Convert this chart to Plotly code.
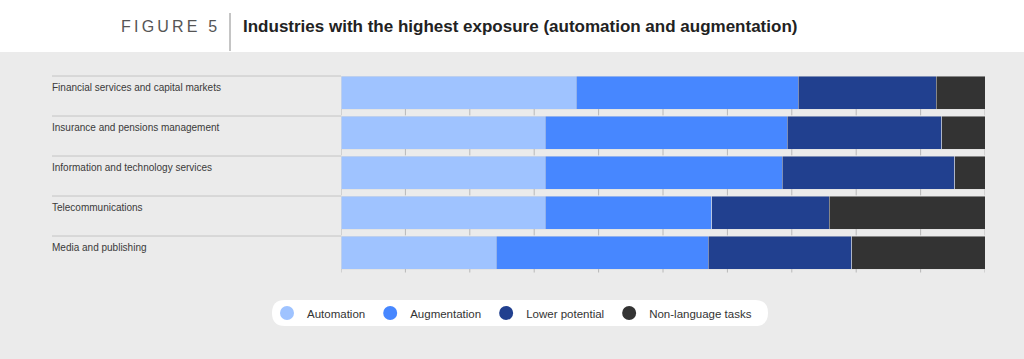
import plotly.graph_objects as go

# ---- data ----
industries = [
    "Financial services and capital markets",
    "Insurance and pensions management",
    "Information and technology services",
    "Telecommunications",
    "Media and publishing",
]
automation = [36.5, 31.7, 31.7, 31.7, 24.1]
augmentation = [34.5, 37.6, 36.8, 25.9, 32.9]
lower_potential = [21.4, 24.0, 26.8, 18.2, 22.3]
non_language = [7.6, 6.7, 4.7, 24.2, 20.7]
series_names = ["Automation", "Augmentation", "Lower potential", "Non-language tasks"]
series_values = [automation, augmentation, lower_potential, non_language]
tick_values = list(range(0, 101, 10))

# ---- style ----
colors = ["#9fc3ff", "#4787ff", "#21408f", "#333333"]
BG = "#ebebeb"
FONT = "Liberation Sans, Arial, sans-serif"
W, H = 1024, 359
BAR_W = 0.825


def px_x(p):
    return p / W


def px_y(p):
    return 1 - p / H


fig = go.Figure()

for name, vals, col in zip(series_names, series_values, colors):
    fig.add_trace(go.Bar(
        y=industries, x=vals, orientation="h", name=name,
        marker=dict(color=col, line=dict(color="#dcdcdc", width=0.5)),
        width=BAR_W, showlegend=False, hoverinfo="x+name",
    ))

# legend-only circle markers
for name, col in zip(series_names, colors):
    fig.add_trace(go.Scatter(
        x=[None], y=[None], mode="markers", name=name,
        marker=dict(symbol="circle", size=14, color=col),
    ))

shapes = []
annotations = []

# header band
shapes.append(dict(type="rect", xref="paper", yref="paper", x0=0, x1=1,
                   y0=px_y(52), y1=1, fillcolor="white", line=dict(width=0), layer="below"))
shapes.append(dict(type="line", xref="paper", yref="paper", x0=px_x(230), x1=px_x(230),
                   y0=px_y(13), y1=px_y(51), line=dict(color="#8a8a8a", width=1)))

# row separators, labels and ticks
for i, name in enumerate(industries):
    top = i - BAR_W / 2
    bot = i + BAR_W / 2
    shapes.append(dict(type="line", xref="paper", yref="y", x0=px_x(52), x1=px_x(341),
                       y0=top, y1=top, line=dict(color="#c4c4c4", width=1)))
    annotations.append(dict(text=name, xref="paper", yref="y", x=px_x(50), y=top,
                            xanchor="left", yanchor="top", yshift=-4, showarrow=False,
                            font=dict(family=FONT, size=10, color="#3a3a3a")))
    for t in tick_values:
        shapes.append(dict(type="line", xref="x", yref="y", x0=t, x1=t,
                           y0=bot, y1=bot + 0.16, line=dict(color="#b8b8b8", width=1)))

# rounded legend background
x0, x1 = px_x(272), px_x(768)
yt, yb = px_y(300), px_y(326)
rx, ry = 13 / W, 13 / H
path = (f"M {x0+rx},{yt} L {x1-rx},{yt} Q {x1},{yt} {x1},{yt-ry} "
        f"L {x1},{yb+ry} Q {x1},{yb} {x1-rx},{yb} L {x0+rx},{yb} "
        f"Q {x0},{yb} {x0},{yb+ry} L {x0},{yt-ry} Q {x0},{yt} {x0+rx},{yt} Z")
shapes.append(dict(type="path", xref="paper", yref="paper", path=path,
                   fillcolor="white", line=dict(width=0), layer="below"))

# titles
annotations.append(dict(text="F\u2009I\u2009G\u2009U\u2009R\u2009E\u2009 \u20095", xref="paper", yref="paper",
                        x=px_x(119), y=px_y(27), xanchor="left", yanchor="middle", showarrow=False,
                        font=dict(family=FONT, size=16, color="#555555")))
annotations.append(dict(text="<b>Industries with the highest exposure (automation and augmentation)</b>",
                        xref="paper", yref="paper", x=px_x(241), y=px_y(27), xanchor="left",
                        yanchor="middle", showarrow=False,
                        font=dict(family=FONT, size=17, color="#222222")))

fig.update_layout(
    width=W, height=H,
    margin=dict(l=0, r=0, t=0, b=0),
    paper_bgcolor=BG, plot_bgcolor="rgba(0,0,0,0)",
    barmode="stack",
    showlegend=True,
    legend=dict(orientation="h", x=0.5, xanchor="center", y=px_y(313), yanchor="middle",
                traceorder="normal", bgcolor="rgba(0,0,0,0)",
                font=dict(family=FONT, size=11.5, color="#333333"),
                itemclick=False, itemdoubleclick=False),
    xaxis=dict(domain=[px_x(341), px_x(985)], range=[0, 100], showticklabels=False,
               showgrid=False, zeroline=False, showline=False, fixedrange=True),
    yaxis=dict(domain=[px_y(272.5), px_y(72.5)], range=[4.5, -0.5], type="category",
               showticklabels=False, showgrid=False, zeroline=False, showline=False,
               fixedrange=True),
    shapes=shapes,
    annotations=annotations,
    font=dict(family=FONT),
)

fig.write_html("out.html", config={"displayModeBar": False},
               post_script="document.body.style.margin='0px';")
